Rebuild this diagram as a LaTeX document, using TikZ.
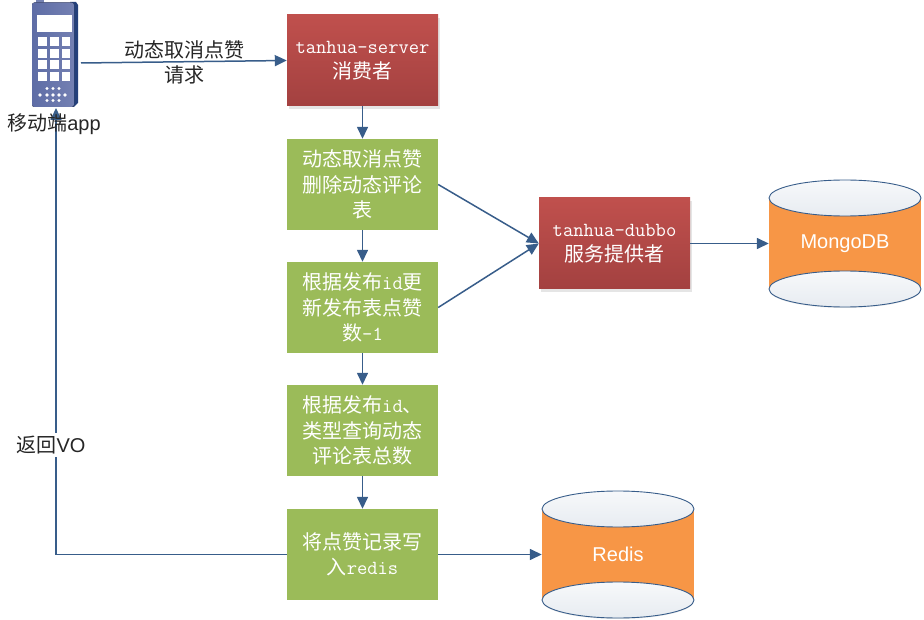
\documentclass[tikz,border=0pt]{standalone}
\usepackage{fontspec}
\setmainfont{Liberation Sans}
\setmonofont{Latin Modern Mono}
\newfontfamily\cjk{Noto Sans CJK SC}
\usetikzlibrary{arrows.meta,shadows}
\definecolor{linec}{HTML}{385D8A}
\definecolor{redtop}{HTML}{C0504D}
\definecolor{redbot}{HTML}{A34140}
\definecolor{greenc}{HTML}{9BBB59}
\definecolor{orangec}{HTML}{F79646}
\definecolor{phonea}{HTML}{5E6DA6}
\definecolor{phoneb}{HTML}{7480B2}
\definecolor{phoned}{HTML}{24407A}
\tikzset{
  boxbase/.style={minimum width=151pt,minimum height=91pt,inner sep=0pt,align=center,text=white,
    font=\fontsize{20}{25.5}\selectfont\cjk},
  redbox/.style={boxbase,top color=redtop,bottom color=redbot,
    drop shadow={shadow xshift=2pt,shadow yshift=-3pt,fill=black,opacity=0.10}},
  greenbox/.style={boxbase,fill=greenc},
  conn/.style={draw=linec,line width=1.5pt,-{Triangle[length=12pt,width=11pt]}},
  lab/.style={font=\fontsize{20}{25}\selectfont\cjk,text=black!85,inner sep=0pt},
  dbtext/.style={font=\fontsize{20}{24}\selectfont,text=white,minimum width=152pt,minimum height=127pt,inner sep=0pt},
  dbend/.style={draw=linec,line width=0.9pt,top color=white!96!linec,bottom color=white!88!linec},
  ghost/.style={minimum width=46pt,minimum height=105pt,inner sep=0pt},
}
\newcommand{\dbdraw}[2]{% left x, top y
  \fill[black,opacity=0.08] (#1+76,#2+110) ellipse [x radius=76,y radius=18];
  \fill[orangec] (#1,#2+18) rectangle (#1+152,#2+109);
  \draw[dbend] (#1+76,#2+109) ellipse [x radius=76,y radius=18];
  \draw[dbend] (#1+76,#2+18) ellipse [x radius=76,y radius=18];
}
\newcommand{\tw}[1]{{\ttfamily #1}}
\begin{document}
\begin{tikzpicture}[x=1pt,y=-1pt]
\useasboundingbox (0,0) rectangle (924,620);
% phone
\fill[phonea!85] (36,3) rectangle (44,0);
\fill[phoned] (70,2) -- (76,2) -- (78,5) -- (78,103) -- (74,107) -- (70,107) -- cycle;
\fill[left color=phonea,right color=phoneb,rounded corners=2.5pt] (32,2.5) rectangle (74,107);
\fill[white] (37,15) rectangle (72,32);
\foreach \yy/\yz in {37.5/46.5,49.5/58.5,60.5/69,72.5/81.5}
  \foreach \xx/\xz in {37.5/46.5,49.5/58.5,61.5/70}
    \fill[white] (\xx,\yy) rectangle (\xz,\yz);
\foreach \xx in {47,53,59} \fill[white] (\xx,88.5) circle (1.6);
\foreach \xx in {40,47,53,59,65} \fill[white] (\xx,95) circle (1.8);
\foreach \xx in {47,53,59} \fill[white] (\xx,100.5) circle (1.6);
\node[ghost] (phone) at (55,54.5) {};
\coordinate (phoneout) at (81,63);
\coordinate (phonein) at (56,108);
% boxes
\node[redbox] (srv) at (362.5,60.5) {\tw{tanhua-server}\\消费者};
\node[greenbox] (g1) at (362.5,184.5) {动态取消点赞\\删除动态评论\\表};
\node[greenbox] (g2) at (362.5,307.5) {根据发布\tw{id}更\\新发布表点赞\\数\tw{-1}};
\node[greenbox] (g3) at (362.5,430.5) {根据发布\tw{id}、\\类型查询动态\\评论表总数};
\node[greenbox] (g4) at (362.5,554.5) {将点赞记录写\\入\tw{redis}};
\node[redbox] (dub) at (614.5,243.5) {\tw{tanhua-dubbo}\\服务提供者};
% cylinders
\dbdraw{769}{180}
\node[dbtext] (mongo) at (845,243.5) {MongoDB};
\dbdraw{542}{491}
\node[dbtext] (redis) at (618,554.5) {Redis};
% connectors
\draw[conn] (phoneout) -- (srv.west);
\draw[conn] (srv) -- (g1);
\draw[conn] (g1) -- (g2);
\draw[conn] (g2) -- (g3);
\draw[conn] (g3) -- (g4);
\draw[conn] (g1.east) -- (dub.west);
\draw[conn] (g2.east) -- (dub.west);
\draw[conn] (dub) -- (mongo);
\draw[conn] (g4) -- (redis);
\draw[conn] (g4.west) -| (phonein);
% labels
\node[lab] (l1) at (184,50) {动态取消点赞};
\node[lab,fill=white,inner ysep=1pt] (l2) at (184,75) {请求};
\node[lab] (l3) at (54,124) {移动端{\fontfamily{\rmdefault}\selectfont app}};
\node[lab,fill=white,inner ysep=3pt] (l4) at (51,445) {返回{\fontfamily{\rmdefault}\selectfont VO}};
\end{tikzpicture}
\end{document}
